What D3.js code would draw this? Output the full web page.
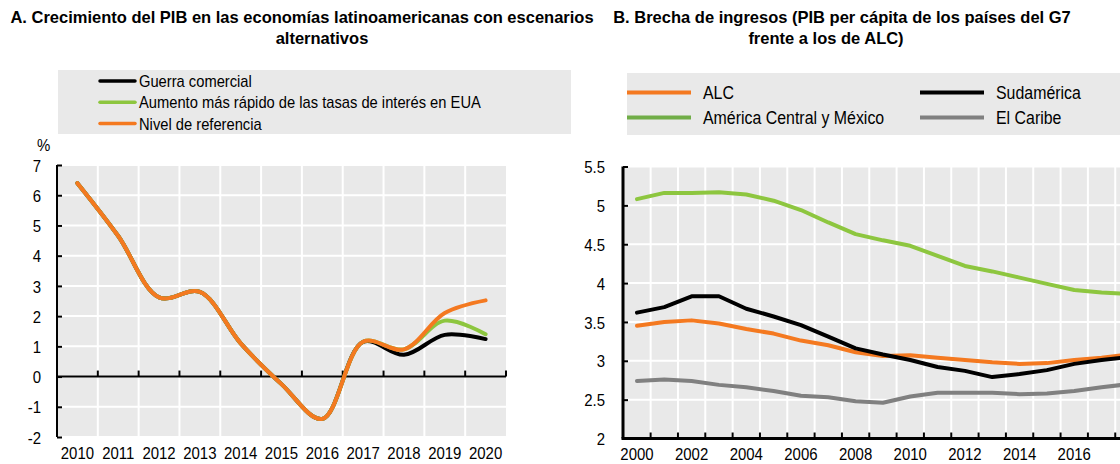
<!DOCTYPE html>
<html>
<head>
<meta charset="utf-8">
<script src="https://cdn.jsdelivr.net/npm/d3@7"></script>
<style>
  body { margin: 0; background: white; }
  text { font-family: "Liberation Sans", Arial, sans-serif; fill: #000; }
  .title { font-weight: bold; font-size: 16.5px; }
  .tick-label { font-size: 17px; }
  .legend-label { font-size: 17px; }
  .legend-label-b { font-size: 18.5px; }
</style>
</head>
<body>
<svg id="chart" width="1120" height="464"></svg>
<script>
// Datos panel A (crecimiento del PIB, %)
const yearsA = [2010, 2011, 2012, 2013, 2014, 2015, 2016, 2017, 2018, 2019, 2020]
const referencia = [6.4, 4.65, 2.62, 2.8, 1.1, -0.25, -1.4, 1.15, 0.9, 2.1, 2.52]
const tasasEUA = [6.4, 4.65, 2.62, 2.8, 1.1, -0.25, -1.4, 1.15, 0.9, 1.85, 1.4]
const guerraComercial = [6.4, 4.65, 2.62, 2.8, 1.1, -0.25, -1.4, 1.15, 0.72, 1.38, 1.24]
const ticksA = [-2, -1, 0, 1, 2, 3, 4, 5, 6, 7]

// Datos panel B (brecha de ingresos)
const yearsB = [2000, 2001, 2002, 2003, 2004, 2005, 2006, 2007, 2008, 2009, 2010, 2011, 2012, 2013, 2014, 2015, 2016, 2017, 2018]
const alc = [3.45, 3.5, 3.52, 3.48, 3.41, 3.35, 3.26, 3.2, 3.11, 3.06, 3.07, 3.04, 3.01, 2.98, 2.96, 2.97, 3.01, 3.04, 3.08]
const centroMex = [5.08, 5.16, 5.16, 5.17, 5.14, 5.06, 4.94, 4.78, 4.63, 4.55, 4.48, 4.35, 4.22, 4.15, 4.07, 3.99, 3.91, 3.88, 3.86]
const sudamerica = [3.62, 3.69, 3.83, 3.83, 3.67, 3.57, 3.46, 3.31, 3.16, 3.08, 3.01, 2.92, 2.87, 2.79, 2.83, 2.88, 2.96, 3.01, 3.05]
const caribe = [2.74, 2.76, 2.74, 2.69, 2.66, 2.61, 2.55, 2.53, 2.48, 2.46, 2.54, 2.59, 2.59, 2.59, 2.57, 2.58, 2.61, 2.66, 2.7]
const ticksB = [2, 2.5, 3, 3.5, 4, 4.5, 5, 5.5]
const labelYearsB = [2000, 2002, 2004, 2006, 2008, 2010, 2012, 2014, 2016]

const orange = '#F47920'
const green = '#8DC63F'
const greenLegend = '#70AD47'
const gray = '#808080'
const bg = '#E9E9E9'

const svg = d3.select('#chart')

// comprime el texto en horizontal (la fuente original es estrecha)
const squeeze = (sel, s) => sel.each(function () {
    const t = d3.select(this)
    const x = +t.attr('x') || 0
    t.attr('transform', `translate(${x},0) scale(${s},1) translate(${-x},0)`)
})

// ---------------- Panel A ----------------
const xA = d3.scaleBand().domain(yearsA).range([57, 506])
const yA = d3.scaleLinear().domain([-2, 7]).range([437, 165])

svg.append('text').attr('class', 'title')
    .attr('x', 302).attr('y', 23).attr('text-anchor', 'middle')
    .text('A. Crecimiento del PIB en las economías latinoamericanas con escenarios')
svg.append('text').attr('class', 'title')
    .attr('x', 322).attr('y', 44).attr('text-anchor', 'middle')
    .text('alternativos')

// leyenda A
const legendA = svg.append('g')
legendA.append('rect')
    .attr('x', 58).attr('y', 70).attr('width', 513).attr('height', 64)
    .attr('fill', bg)
const legendItemsA = [
    { label: 'Guerra comercial', color: '#000' },
    { label: 'Aumento más rápido de las tasas de interés en EUA', color: green },
    { label: 'Nivel de referencia', color: orange }
]
legendItemsA.forEach((d, i) => {
    const yy = 81 + i * 21.3
    legendA.append('line')
        .attr('x1', 100).attr('x2', 135).attr('y1', yy).attr('y2', yy)
        .attr('stroke', d.color).attr('stroke-width', 3.5).attr('stroke-linecap', 'round')
    legendA.append('text').attr('class', 'legend-label')
        .attr('x', 139).attr('y', yy + 6).text(d.label)
})
squeeze(legendA.selectAll('text'), 0.866)

svg.append('text').attr('class', 'tick-label')
    .attr('x', 37).attr('y', 151).text('%')
    .call(squeeze, 0.88)

const gA = svg.append('g')
gA.append('rect')
    .attr('x', 57).attr('y', 165).attr('width', 449).attr('height', 272)
    .attr('fill', bg)

// rejilla
gA.selectAll('.hgrid').data(ticksA).enter().append('line')
    .attr('x1', 57).attr('x2', 506)
    .attr('y1', d => yA(d)).attr('y2', d => yA(d))
    .attr('stroke', 'white').attr('stroke-width', 2)
gA.selectAll('.vgrid').data(yearsA.slice(1)).enter().append('line')
    .attr('x1', d => xA(d)).attr('x2', d => xA(d))
    .attr('y1', 165).attr('y2', 437)
    .attr('stroke', 'white').attr('stroke-width', 2)

// eje y
const yAxisA = gA.append('g')
    .attr('transform', 'translate(57,0)')
    .call(d3.axisLeft(yA).tickValues(ticksA).tickSize(-5).tickPadding(16).tickFormat(d => d))
yAxisA.select('.domain').attr('stroke-width', 2).attr('d', `M0,${yA(7)}V${yA(-2)}`)
yAxisA.selectAll('.tick line').attr('stroke-width', 2)
yAxisA.selectAll('text').attr('class', 'tick-label').attr('dy', '0.36em')
    .style('font-family', null).style('font-size', null)
    .call(squeeze, 0.88)
yAxisA.attr('font-family', null).attr('font-size', null)

// eje x (en el cero)
gA.append('line')
    .attr('x1', 57).attr('x2', 506).attr('y1', yA(0)).attr('y2', yA(0))
    .attr('stroke', 'black').attr('stroke-width', 2)
gA.selectAll('.xtickA').data(yearsA.slice(1).concat(['end'])).enter().append('line')
    .attr('x1', d => d === 'end' ? 506 : xA(d)).attr('x2', d => d === 'end' ? 506 : xA(d))
    .attr('y1', yA(0)).attr('y2', yA(0) - 6)
    .attr('stroke', 'black').attr('stroke-width', 2)
gA.selectAll('.xlabA').data(yearsA).enter().append('text')
    .attr('class', 'tick-label')
    .attr('x', d => xA(d) + xA.bandwidth() / 2).attr('y', 459)
    .attr('text-anchor', 'middle')
    .text(d => d)
    .call(squeeze, 0.88)

// series A
const lineA = d3.line()
    .x((d, i) => xA(yearsA[i]) + xA.bandwidth() / 2)
    .y(d => yA(d))
    .curve(d3.curveCatmullRom.alpha(0.5))
;[[guerraComercial, '#000'], [tasasEUA, green], [referencia, orange]].forEach(([s, c]) => {
    gA.append('path').attr('d', lineA(s))
        .attr('fill', 'none').attr('stroke', c).attr('stroke-width', 4)
        .attr('stroke-linecap', 'round').attr('stroke-linejoin', 'round')
})

// ---------------- Panel B ----------------
const bw = 27.33
const xB = d3.scaleBand().domain(yearsB).range([623.3, 623.3 + bw * yearsB.length])
const yB = d3.scaleLinear().domain([2, 5.5]).range([438.5, 166.5])

svg.append('text').attr('class', 'title')
    .attr('x', 842).attr('y', 23).attr('text-anchor', 'middle')
    .text('B. Brecha de ingresos (PIB per cápita de los países del G7')
svg.append('text').attr('class', 'title')
    .attr('x', 826).attr('y', 44).attr('text-anchor', 'middle')
    .text('frente a los de ALC)')

// leyenda B
const legendB = svg.append('g')
legendB.append('rect')
    .attr('x', 627).attr('y', 73).attr('width', 520).attr('height', 62)
    .attr('fill', bg)
const legendItemsB = [
    { label: 'ALC', color: orange, x: 627, y: 92.5 },
    { label: 'América Central y México', color: greenLegend, x: 627, y: 117.5 },
    { label: 'Sudamérica', color: '#000', x: 920, y: 92.5 },
    { label: 'El Caribe', color: gray, x: 920, y: 117.5 }
]
legendItemsB.forEach(d => {
    legendB.append('line')
        .attr('x1', d.x).attr('x2', d.x + 64).attr('y1', d.y).attr('y2', d.y)
        .attr('stroke', d.color).attr('stroke-width', 4)
    legendB.append('text').attr('class', 'legend-label-b')
        .attr('x', d.x + 76).attr('y', d.y + 6.5).text(d.label)
})
squeeze(legendB.selectAll('text'), 0.86)

const gB = svg.append('g')
gB.append('rect')
    .attr('x', 623).attr('y', 166.5).attr('width', 600).attr('height', 272)
    .attr('fill', bg)

gB.selectAll('.hgrid').data(ticksB).enter().append('line')
    .attr('x1', 623).attr('x2', 1200)
    .attr('y1', d => yB(d)).attr('y2', d => yB(d))
    .attr('stroke', 'white').attr('stroke-width', 2)
gB.selectAll('.vgrid').data(yearsB.slice(1)).enter().append('line')
    .attr('x1', d => xB(d)).attr('x2', d => xB(d))
    .attr('y1', 166.5).attr('y2', 438.5)
    .attr('stroke', 'white').attr('stroke-width', 2)

const yAxisB = gB.append('g')
    .attr('transform', 'translate(623,0)')
    .call(d3.axisLeft(yB).tickValues(ticksB).tickSize(-5).tickPadding(18).tickFormat(d => d))
yAxisB.select('.domain').attr('stroke-width', 3).attr('d', `M0,${yB(5.5)}V${yB(2)}`)
yAxisB.selectAll('.tick line').attr('stroke-width', 2)
yAxisB.selectAll('text').attr('class', 'tick-label').attr('dy', '0.36em')
    .call(squeeze, 0.88)
yAxisB.attr('font-family', null).attr('font-size', null)

gB.append('line')
    .attr('x1', 621.5).attr('x2', 1200).attr('y1', yB(2)).attr('y2', yB(2))
    .attr('stroke', 'black').attr('stroke-width', 3)
gB.selectAll('.xtickB').data(yearsB.slice(1)).enter().append('line')
    .attr('x1', d => xB(d)).attr('x2', d => xB(d))
    .attr('y1', yB(2)).attr('y2', yB(2) - 6)
    .attr('stroke', 'black').attr('stroke-width', 2)
gB.selectAll('.xlabB').data(labelYearsB).enter().append('text')
    .attr('class', 'tick-label')
    .attr('x', d => xB(d) + xB.bandwidth() / 2).attr('y', 460)
    .attr('text-anchor', 'middle')
    .text(d => d)
    .call(squeeze, 0.88)

const lineB = d3.line()
    .x((d, i) => xB(yearsB[i]) + xB.bandwidth() / 2)
    .y(d => yB(d))
;[[caribe, gray], [centroMex, green], [alc, orange], [sudamerica, '#000']].forEach(([s, c]) => {
    gB.append('path').attr('d', lineB(s))
        .attr('fill', 'none').attr('stroke', c).attr('stroke-width', 4)
        .attr('stroke-linecap', 'round').attr('stroke-linejoin', 'round')
})
</script>
</body>
</html>
